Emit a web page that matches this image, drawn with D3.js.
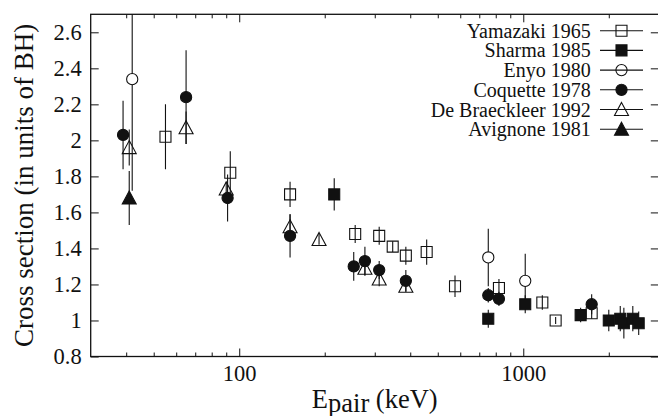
<!DOCTYPE html>
<html>
<head>
<meta charset="utf-8">
<script src="https://cdn.jsdelivr.net/npm/d3@7/dist/d3.min.js"></script>
</head>
<body style="margin:0">
<div id="chart"></div>
<script>
// Pair-production cross section data
const yamazakiE   = [55, 93, 151, 256, 311, 347, 386, 457, 575, 821, 1167, 1300, 1741];
const yamazakiV   = [2.02, 1.82, 1.70, 1.48, 1.47, 1.41, 1.36, 1.38, 1.19, 1.18, 1.10, 1.00, 1.04];
const yamazakiErr = [0.18, 0.12, 0.07, 0.05, 0.05, 0.03, 0.05, 0.07, 0.06, 0.05, 0.04, 0.02, 0.03];

const sharmaE   = [216, 753, 1016, 1592, 2000, 2195, 2260, 2430, 2549];
const sharmaV   = [1.70, 1.01, 1.09, 1.03, 1.00, 1.01, 0.985, 1.01, 0.985];
const sharmaErr = [0.09, 0.05, 0.05, 0.04, 0.06, 0.07, 0.085, 0.07, 0.065];

const enyoE   = [42, 753, 1016];
const enyoV   = [2.34, 1.35, 1.22];
const enyoErr = [0.62, 0.16, 0.15];

const coquetteE   = [39, 65, 91, 151, 253, 277, 311, 386, 753, 821, 1741];
const coquetteV   = [2.03, 2.24, 1.68, 1.47, 1.30, 1.33, 1.28, 1.22, 1.14, 1.12, 1.09];
const coquetteErr = [0.19, 0.26, 0.13, 0.12, 0.08, 0.08, 0.05, 0.06, 0.04, 0.04, 0.055];

const debraeckleerE   = [41, 65, 90, 151, 191, 277, 311, 386];
const debraeckleerV   = [1.96, 2.07, 1.73, 1.52, 1.45, 1.29, 1.23, 1.19];
const debraeckleerErr = [0.10, 0.09, 0.04, 0.07, 0.03, 0.04, 0.04, 0.03];

const avignoneE   = [41];
const avignoneV   = [1.68];
const avignoneErr = [0.15];

const seriesNames = ['Yamazaki 1965', 'Sharma 1985', 'Enyo 1980', 'Coquette 1978', 'De Braeckleer 1992', 'Avignone 1981'];

const yTicks = [0.8, 1, 1.2, 1.4, 1.6, 1.8, 2, 2.2, 2.4, 2.6];
const xMajorTicks = [100, 1000];
const xMinorTicks = [40, 50, 60, 70, 80, 90, 200, 300, 400, 500, 600, 700, 800, 900, 2000];

const build = (E, V, Err) => E.map((e, i) => ({ e, v: V[i], err: Err[i] }));

const series = [
    { name: seriesNames[0], shape: 'square', filled: false, data: build(yamazakiE, yamazakiV, yamazakiErr) },
    { name: seriesNames[1], shape: 'square', filled: true, data: build(sharmaE, sharmaV, sharmaErr) },
    { name: seriesNames[2], shape: 'circle', filled: false, data: build(enyoE, enyoV, enyoErr) },
    { name: seriesNames[3], shape: 'circle', filled: true, data: build(coquetteE, coquetteV, coquetteErr) },
    { name: seriesNames[4], shape: 'triangle', filled: false, data: build(debraeckleerE, debraeckleerV, debraeckleerErr) },
    { name: seriesNames[5], shape: 'triangle', filled: true, data: build(avignoneE, avignoneV, avignoneErr) }
];

const FONT = "'Liberation Serif'";
const W = 658, H = 416;
const plotLeft = 90.7, plotRight = 658.8, plotTop = 14.3, plotBottom = 356.5;

const svg = d3.select('#chart')
    .append('svg')
    .attr('width', W)
    .attr('height', H);

const x = d3.scaleLog()
    .domain([30, 3000])
    .range([plotLeft, plotRight]);

const y = d3.scaleLinear()
    .domain([0.8, 2.7])
    .range([plotBottom, plotTop]);

svg.append('clipPath')
    .attr('id', 'plotclip')
    .append('rect')
    .attr('x', plotLeft)
    .attr('y', plotTop)
    .attr('width', plotRight - plotLeft)
    .attr('height', plotBottom - plotTop);

// marker path generator
function markerPath(shape) {
    if (shape === 'square') return 'M-5.5,-5.5H5.5V5.5H-5.5Z';
    if (shape === 'triangle') return 'M0,-7L7,6H-7Z';
    return 'M5.6,0A5.6,5.6 0 1,1 -5.6,0A5.6,5.6 0 1,1 5.6,0Z';
}

// Axes (ticks pointing inward, mirrored on top/right)
const styleAxis = g => {
    g.attr('font-family', null).attr('font-size', null);
    g.select('.domain').remove();
    g.selectAll('line').attr('stroke', '#111');
    g.selectAll('text')
        .style('font-family', FONT)
        .style('font-size', '22.5px')
        .attr('fill', '#111');
};

svg.append('g')
    .attr('transform', `translate(0,${plotBottom})`)
    .call(d3.axisBottom(x).tickValues(xMajorTicks).tickFormat(d3.format('d')).tickSize(-8).tickPadding(9))
    .call(styleAxis);

svg.append('g')
    .attr('transform', `translate(0,${plotBottom})`)
    .call(d3.axisBottom(x).tickValues(xMinorTicks).tickFormat('').tickSize(-4))
    .call(styleAxis);

svg.append('g')
    .attr('transform', `translate(0,${plotTop})`)
    .call(d3.axisTop(x).tickValues(xMajorTicks).tickFormat('').tickSize(-8))
    .call(styleAxis);

svg.append('g')
    .attr('transform', `translate(0,${plotTop})`)
    .call(d3.axisTop(x).tickValues(xMinorTicks).tickFormat('').tickSize(-4))
    .call(styleAxis);

svg.append('g')
    .attr('transform', `translate(${plotLeft},0)`)
    .call(d3.axisLeft(y).tickValues(yTicks).tickFormat(d => d3.format('~g')(d)).tickSize(-8).tickPadding(9))
    .call(styleAxis);

svg.append('g')
    .attr('transform', `translate(${plotRight},0)`)
    .call(d3.axisRight(y).tickValues(yTicks).tickFormat('').tickSize(-8))
    .call(styleAxis);

// Frame
svg.append('rect')
    .attr('x', plotLeft)
    .attr('y', plotTop)
    .attr('width', plotRight - plotLeft)
    .attr('height', plotBottom - plotTop)
    .attr('fill', 'none')
    .attr('stroke', '#111')
    .attr('stroke-width', 1.3);

// Data
const plot = svg.append('g').attr('clip-path', 'url(#plotclip)');

series.forEach(s => {
    plot.append('g')
        .selectAll('line')
        .data(s.data)
        .enter()
        .append('line')
        .attr('x1', d => x(d.e))
        .attr('x2', d => x(d.e))
        .attr('y1', d => y(d.v - d.err))
        .attr('y2', d => y(d.v + d.err))
        .attr('stroke', '#111')
        .attr('stroke-width', 1.1);
});

series.forEach(s => {
    plot.append('g')
        .selectAll('path')
        .data(s.data)
        .enter()
        .append('path')
        .attr('transform', d => `translate(${x(d.e)},${y(d.v)})`)
        .attr('d', markerPath(s.shape))
        .attr('fill', s.filled ? '#111' : (s.shape === 'circle' ? '#fff' : 'none'))
        .attr('stroke', '#111')
        .attr('stroke-width', 1.1);
});

// Legend
const legend = svg.selectAll('.legend')
    .data(series)
    .enter()
    .append('g')
    .attr('class', 'legend')
    .attr('transform', (d, i) => `translate(0,${30.7 + i * 19.7})`);

legend.append('text')
    .attr('x', 590.7)
    .attr('dy', '0.35em')
    .attr('text-anchor', 'end')
    .style('font-family', FONT)
    .style('font-size', '20px')
    .attr('fill', '#111')
    .text(d => d.name);

legend.append('line')
    .attr('x1', 600)
    .attr('x2', 643)
    .attr('stroke', '#111')
    .attr('stroke-width', 1.1);

legend.append('path')
    .attr('transform', 'translate(621.5,0)')
    .attr('d', d => markerPath(d.shape))
    .attr('fill', d => d.filled ? '#111' : 'none')
    .attr('stroke', '#111')
    .attr('stroke-width', 1.1);

// Axis titles
const xTitle = svg.append('text')
    .attr('x', (plotLeft + plotRight) / 2)
    .attr('y', 408.3)
    .attr('text-anchor', 'middle')
    .style('font-family', FONT)
    .style('font-size', '26.5px')
    .attr('fill', '#111');
xTitle.append('tspan').text('E');
xTitle.append('tspan').attr('dy', 4).text('pair');
xTitle.append('tspan').attr('dy', -4).text(' (keV)');

svg.append('text')
    .attr('transform', `translate(33,${(plotTop + plotBottom) / 2}) rotate(-90)`)
    .attr('text-anchor', 'middle')
    .style('font-family', FONT)
    .style('font-size', '27px')
    .attr('fill', '#111')
    .text('Cross section (in units of BH)');
</script>
</body>
</html>
